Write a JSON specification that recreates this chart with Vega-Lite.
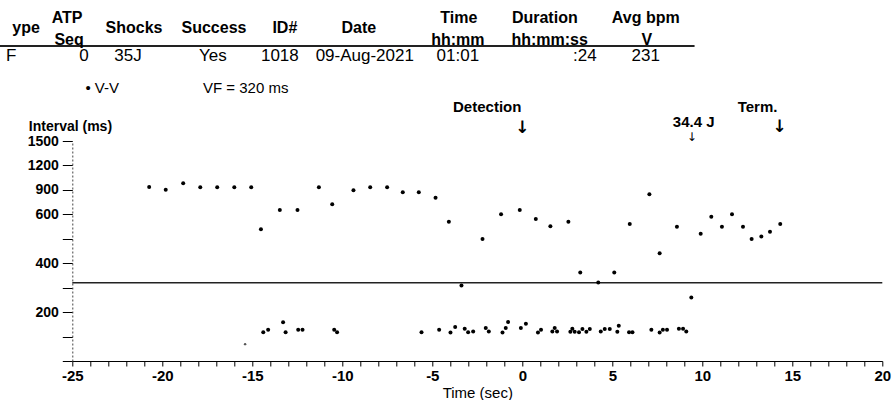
{
  "$schema": "https://vega.github.io/schema/vega-lite/v6.json",
  "width": 810,
  "height": 220,
  "autosize": {"type": "none"},
  "padding": {"left": 72.3, "top": 141, "right": 9.7, "bottom": 39},
  "background": "white",
  "config": {"view": {"stroke": null}, "font": "Liberation Sans"},
  "datasets": {
    "vv": [
      {"t": -20.73, "ms": 935}, {"t": -19.81, "ms": 900}, {"t": -18.84, "ms": 980}, {"t": -17.89, "ms": 933},
      {"t": -16.95, "ms": 933}, {"t": -16.0, "ms": 933}, {"t": -15.06, "ms": 933}, {"t": -14.52, "ms": 539},
      {"t": -13.47, "ms": 653}, {"t": -12.49, "ms": 653}, {"t": -11.3, "ms": 933}, {"t": -10.56, "ms": 723},
      {"t": -9.38, "ms": 896}, {"t": -8.45, "ms": 933}, {"t": -7.51, "ms": 933}, {"t": -6.64, "ms": 872},
      {"t": -5.75, "ms": 872}, {"t": -4.82, "ms": 804}, {"t": -4.08, "ms": 570}, {"t": -3.38, "ms": 309},
      {"t": -2.21, "ms": 499}, {"t": -1.18, "ms": 600}, {"t": -0.14, "ms": 653}, {"t": 0.75, "ms": 581},
      {"t": 1.56, "ms": 551}, {"t": 2.56, "ms": 570}, {"t": 3.22, "ms": 362}, {"t": 4.22, "ms": 321},
      {"t": 5.11, "ms": 362}, {"t": 5.97, "ms": 560}, {"t": 7.06, "ms": 846}, {"t": 7.63, "ms": 441},
      {"t": 8.59, "ms": 549}, {"t": 9.39, "ms": 260}, {"t": 9.91, "ms": 520}, {"t": 10.5, "ms": 590},
      {"t": 11.09, "ms": 549}, {"t": 11.65, "ms": 601}, {"t": 12.26, "ms": 549}, {"t": 12.74, "ms": 499},
      {"t": 13.28, "ms": 509}, {"t": 13.76, "ms": 529}, {"t": 14.33, "ms": 560},
      {"t": -14.39, "ms": 118}, {"t": -14.12, "ms": 128}, {"t": -13.29, "ms": 158}, {"t": -13.15, "ms": 118},
      {"t": -12.45, "ms": 128}, {"t": -12.21, "ms": 128}, {"t": -10.45, "ms": 128}, {"t": -10.29, "ms": 118},
      {"t": -5.6, "ms": 118}, {"t": -4.62, "ms": 128}, {"t": -3.99, "ms": 117}, {"t": -3.73, "ms": 139},
      {"t": -3.2, "ms": 132}, {"t": -3.01, "ms": 118}, {"t": -2.73, "ms": 121}, {"t": -2.03, "ms": 135},
      {"t": -1.86, "ms": 121}, {"t": -1.1, "ms": 117}, {"t": -0.92, "ms": 135}, {"t": -0.79, "ms": 159},
      {"t": -0.08, "ms": 135}, {"t": 0.2, "ms": 152}, {"t": 0.87, "ms": 117}, {"t": 1.04, "ms": 128},
      {"t": 1.67, "ms": 121}, {"t": 1.8, "ms": 135}, {"t": 1.93, "ms": 121}, {"t": 2.67, "ms": 120},
      {"t": 2.78, "ms": 132}, {"t": 2.91, "ms": 120}, {"t": 3.15, "ms": 118}, {"t": 3.34, "ms": 131},
      {"t": 3.56, "ms": 120}, {"t": 3.75, "ms": 131}, {"t": 4.36, "ms": 121}, {"t": 4.58, "ms": 131},
      {"t": 4.86, "ms": 131}, {"t": 5.28, "ms": 120}, {"t": 5.36, "ms": 144}, {"t": 5.93, "ms": 118},
      {"t": 6.12, "ms": 118}, {"t": 7.17, "ms": 128}, {"t": 7.63, "ms": 117}, {"t": 7.81, "ms": 128},
      {"t": 8.04, "ms": 128}, {"t": 8.7, "ms": 132}, {"t": 8.93, "ms": 132}, {"t": 9.11, "ms": 121}
    ],
    "faint": [{"t": -15.4, "ms": 69}],
    "vf": [{"t": -25, "t2": 20, "ms": 320}],
    "underline": [{"t": -29.1, "t2": 9.57, "ms": 2666}],
    "header": [
      {"t": -27.57, "ms": 2887, "text": "ype"},
      {"t": -25.29, "ms": 3005, "text": "ATP"},
      {"t": -25.18, "ms": 2745, "text": "Seq"},
      {"t": -21.57, "ms": 2887, "text": "Shocks"},
      {"t": -17.13, "ms": 2887, "text": "Success"},
      {"t": -13.19, "ms": 2887, "text": "ID#"},
      {"t": -9.08, "ms": 2887, "text": "Date"},
      {"t": -3.53, "ms": 3005, "text": "Time"},
      {"t": -3.58, "ms": 2745, "text": "hh:mm"},
      {"t": 1.25, "ms": 3005, "text": "Duration"},
      {"t": 1.52, "ms": 2745, "text": "hh:mm:ss"},
      {"t": 6.86, "ms": 3005, "text": "Avg bpm"},
      {"t": 6.92, "ms": 2745, "text": "V"}
    ],
    "row": [
      {"t": -28.4, "ms": 2544, "text": "F"},
      {"t": -24.35, "ms": 2544, "text": "0"},
      {"t": -21.91, "ms": 2544, "text": "35J"},
      {"t": -17.19, "ms": 2544, "text": "Yes"},
      {"t": -13.47, "ms": 2544, "text": "1018"},
      {"t": -8.75, "ms": 2544, "text": "09-Aug-2021"},
      {"t": -3.58, "ms": 2544, "text": "01:01"},
      {"t": 3.47, "ms": 2544, "text": ":24"},
      {"t": 6.86, "ms": 2544, "text": "231"}
    ],
    "legend": [
      {"t": -24.27, "ms": 2151, "text": "• V-V"},
      {"t": -17.74, "ms": 2151, "text": "VF = 320 ms"}
    ],
    "notes": [
      {"t": -1.95, "ms": 1917, "text": "Detection"},
      {"t": 9.52, "ms": 1733, "text": "34.4 J"},
      {"t": 13.07, "ms": 1917, "text": "Term."}
    ],
    "arrows": [
      {"t": 0.01, "ms": 1660, "text": "↓"},
      {"t": 14.29, "ms": 1672, "text": "↓"}
    ],
    "smallarrow": [{"t": 9.41, "ms": 1545, "text": "↓"}]
  },
  "encoding": {
    "x": {
      "field": "t",
      "type": "quantitative",
      "scale": {"domain": [-25, 20], "nice": false, "zero": false},
      "axis": {
        "title": "Time (sec)",
        "values": [-25,-24,-23,-22,-21,-20,-19,-18,-17,-16,-15,-14,-13,-12,-11,-10,-9,-8,-7,-6,-5,-4,-3,-2,-1,0,1,2,3,4,5,6,7,8,9,10,11,12,13,14,15,16,17,18,19,20],
        "labelExpr": "datum.value % 5 === 0 ? toString(datum.value) : ''",
        "labelOverlap": false,
        "labelFlush": false,
        "grid": false,
        "tickSize": 5,
        "tickColor": "black",
        "domainColor": "black",
        "labelColor": "black",
        "labelFont": "Liberation Sans",
        "labelFontWeight": "bold",
        "labelFontSize": 15,
        "labelPadding": 2,
        "titleColor": "black",
        "titleFont": "Liberation Sans",
        "titleFontSize": 15,
        "titleFontWeight": "normal",
        "titlePadding": 2
      }
    },
    "y": {
      "field": "ms",
      "type": "quantitative",
      "scale": {"domain": [0, 600, 1500], "range": [220, 73.3, 0], "nice": false, "zero": false},
      "axis": {
        "title": "Interval (ms)",
        "values": [0, 100, 200, 300, 400, 500, 600, 900, 1200, 1500],
        "labelExpr": "indexof([0, 100, 300, 500], datum.value) >= 0 ? '' : toString(datum.value)",
        "labelOverlap": false,
        "grid": false,
        "tickSize": 10,
        "tickColor": "black",
        "domainColor": "#444",
        "domainDash": [2, 2],
        "labelColor": "black",
        "labelFont": "Liberation Sans",
        "labelFontWeight": "bold",
        "labelFontSize": 14,
        "labelPadding": 4,
        "titleColor": "black",
        "titleFont": "Liberation Sans",
        "titleFontSize": 14,
        "titleFontWeight": "bold",
        "titleAngle": 0,
        "titleAlign": "left",
        "titleBaseline": "middle",
        "titleX": -44,
        "titleY": -15
      }
    }
  },
  "layer": [
    {"data": {"name": "vf"}, "mark": {"type": "rule", "color": "#222", "strokeWidth": 1.3}, "encoding": {"x2": {"field": "t2"}}},
    {"data": {"name": "vv"}, "mark": {"type": "circle", "color": "black", "size": 16, "opacity": 1}},
    {"data": {"name": "faint"}, "mark": {"type": "circle", "color": "#555", "size": 6, "opacity": 1}},
    {"data": {"name": "underline"}, "mark": {"type": "rule", "color": "#222", "strokeWidth": 2}, "encoding": {"x2": {"field": "t2"}}},
    {"data": {"name": "header"}, "mark": {"type": "text", "font": "Liberation Sans", "fontWeight": "bold", "fontSize": 16, "baseline": "middle", "align": "center", "color": "black"}, "encoding": {"text": {"field": "text"}}},
    {"data": {"name": "row"}, "mark": {"type": "text", "font": "Liberation Sans", "fontWeight": "normal", "fontSize": 17, "baseline": "middle", "align": "center", "color": "black"}, "encoding": {"text": {"field": "text"}}},
    {"data": {"name": "legend"}, "mark": {"type": "text", "font": "Liberation Sans", "fontWeight": "normal", "fontSize": 15, "baseline": "middle", "align": "left", "color": "black"}, "encoding": {"text": {"field": "text"}}},
    {"data": {"name": "notes"}, "mark": {"type": "text", "font": "Liberation Sans", "fontWeight": "bold", "fontSize": 15, "baseline": "middle", "align": "center", "color": "black"}, "encoding": {"text": {"field": "text"}}},
    {"data": {"name": "arrows"}, "mark": {"type": "text", "font": "DejaVu Sans", "fontWeight": "bold", "fontSize": 17, "baseline": "middle", "align": "center", "color": "black"}, "encoding": {"text": {"field": "text"}}},
    {"data": {"name": "smallarrow"}, "mark": {"type": "text", "font": "DejaVu Sans", "fontWeight": "normal", "fontSize": 12, "baseline": "middle", "align": "center", "color": "black"}, "encoding": {"text": {"field": "text"}}}
  ]
}
